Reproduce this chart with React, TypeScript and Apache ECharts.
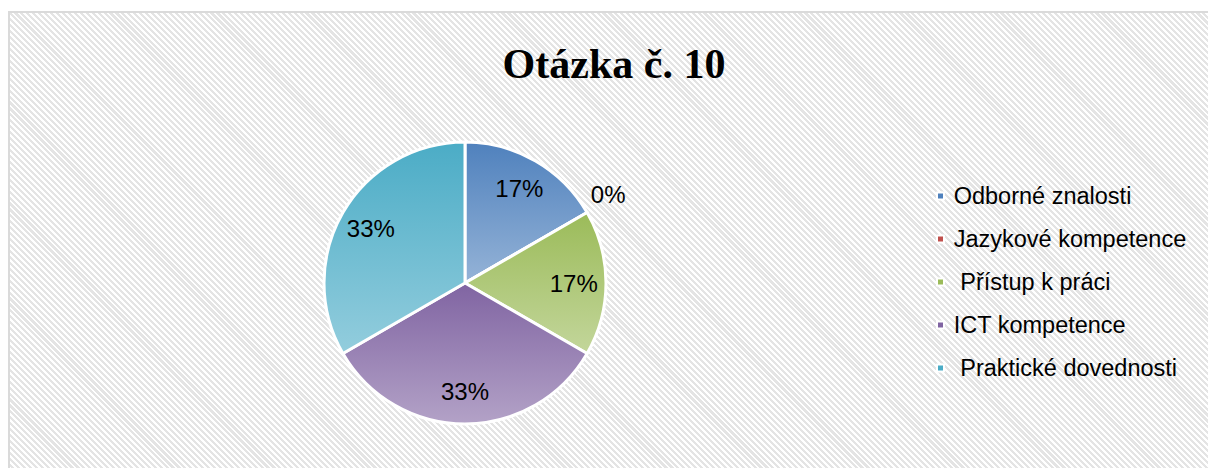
import React, { useEffect, useRef } from "react";
import * as echarts from "echarts";

const categories = [
  "Odborné znalosti",
  "Jazykové kompetence",
  " Přístup k práci",
  "ICT kompetence",
  " Praktické dovednosti",
];
const values = [1, 0, 1, 2, 2];
const percentLabels = ["17%", "0%", "17%", "33%", "33%"];
const titleText = "Otázka č. 10";

const gradients: [string, string][] = [
  ["#4f81bd", "#95b3d7"],
  ["#c0504d", "#d99694"],
  ["#9bbb59", "#c3d69b"],
  ["#8064a2", "#b3a2c7"],
  ["#4bacc6", "#93cddd"],
];

const CX = 465;
const CY = 283;
const R = 141;

export default function App() {
  const ref = useRef<HTMLDivElement>(null);
  useEffect(() => {
    if (!ref.current) return;
    const chart = echarts.init(ref.current, undefined, { renderer: "svg" });
    const grad = (c: [string, string]) =>
      new echarts.graphic.LinearGradient(0, 0, 0, 1, [
        { offset: 0, color: c[0] },
        { offset: 1, color: c[1] },
      ]);
    const mainData = categories.map((name, i) => ({
      name,
      value: values[i],
      itemStyle: { color: grad(gradients[i]) },
    }));
    const labelData = categories.map((name, i) => ({
      name,
      value: values[i],
      label:
        values[i] === 0
          ? { show: true, position: "outside" as const }
          : { show: true, position: "inside" as const },
      labelLine: { show: false },
    }));
    chart.setOption({
      animation: false,
      backgroundColor: "transparent",
      title: {
        text: titleText,
        left: 609,
        textAlign: "center",
        top: 38,
        textStyle: {
          fontFamily: "Liberation Serif",
          fontWeight: "bold",
          fontSize: 42,
          color: "#000",
        },
      },
      legend: {
        orient: "vertical",
        left: 936,
        top: 184,
        padding: 0,
        itemWidth: 7,
        itemHeight: 7,
        itemGap: 19,
        icon: "rect",
        selectedMode: false,
        formatter: (name: string) => "\u2009" + name,
        data: categories.map((name, i) => ({
          name,
          itemStyle: { color: gradients[i][0] },
        })),
        textStyle: {
          fontFamily: "Liberation Sans",
          fontSize: 23.5,
          lineHeight: 23,
          color: "#000",
        },
      },
      series: [
        {
          type: "pie",
          center: [CX, CY],
          radius: [0, R],
          startAngle: 90,
          clockwise: true,
          avoidLabelOverlap: false,
          stillShowZeroSum: true,
          minAngle: 0,
          label: { show: false },
          labelLine: { show: false },
          itemStyle: { borderColor: "#ffffff", borderWidth: 3 },
          emphasis: { disabled: true },
          data: mainData,
        },
        {
          type: "pie",
          center: [CX, CY],
          radius: [R * 0.5, R],
          startAngle: 90,
          clockwise: true,
          avoidLabelOverlap: false,
          silent: true,
          itemStyle: { color: "rgba(0,0,0,0)", borderWidth: 0 },
          label: {
            fontFamily: "Liberation Sans",
            fontSize: 24,
            color: "#000",
            formatter: (p: any) => percentLabels[p.dataIndex],
          },
          labelLine: { show: false, length: 2, length2: 0 },
          labelLayout: (p: any) =>
            p.dataIndex === 1 ? { dy: -17, dx: -3 } : {},
          emphasis: { disabled: true },
          data: labelData,
        },
      ],
    });
    return () => chart.dispose();
  }, []);

  return (
    <div style={{ position: "absolute", left: 0, top: 0, width: 1208, height: 468, background: "#ffffff", overflow: "hidden" }}>
      <div
        style={{
          position: "absolute",
          left: 8,
          top: 11,
          width: 1220,
          height: 480,
          border: "2px solid #dadada",
          background:
            "repeating-linear-gradient(45deg, #ffffff 0px, #ffffff 2px, #e4e4e4 2px, #e4e4e4 4.2px)",
        }}
      />
      <div ref={ref} style={{ position: "absolute", left: 0, top: 0, width: 1208, height: 468 }} />
    </div>
  );
}
